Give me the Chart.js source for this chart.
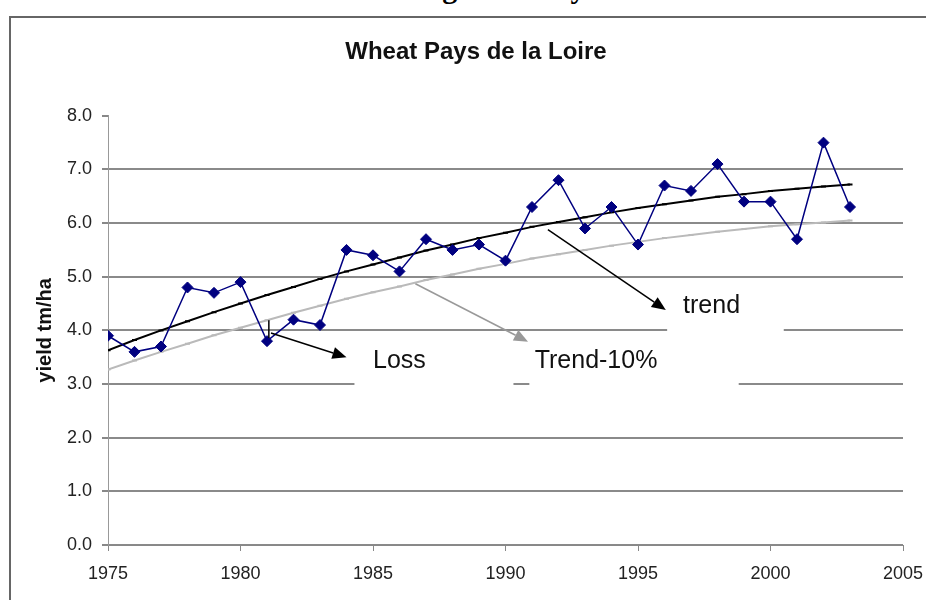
<!DOCTYPE html>
<html>
<head>
<meta charset="utf-8">
<title>Wheat Pays de la Loire</title>
<script src="https://cdn.jsdelivr.net/npm/chart.js@4.4.1/dist/chart.umd.min.js"></script>
<style>
  html, body { margin: 0; padding: 0; background: #fff; overflow: hidden; }
  #wrap { position: relative; width: 926px; height: 600px; overflow: hidden; background: #fff; }
  #caption {
    position: absolute; right: 176px; top: -27px;
    font: bold 30px/30px "Liberation Serif", "Times New Roman", serif;
    white-space: nowrap; color: #000;
  }
  #frame {
    position: absolute; left: 9px; top: 16px; width: 960px; height: 640px;
    border-left: 2px solid #666; border-top: 2px solid #666; pointer-events: none;
  }
  canvas { position: absolute; left: 0; top: 0; }
</style>
</head>
<body>
<div id="wrap">
  <div id="caption">Wheat trend and data deducted for the region of Pays de la Loire.</div>
  <canvas id="wheat-chart" width="926" height="600"></canvas>
  <div id="frame"></div>
</div>
<script>
// yields (t/ha)
const years = [1975, 1976, 1977, 1978, 1979, 1980, 1981, 1982, 1983, 1984,
               1985, 1986, 1987, 1988, 1989, 1990, 1991, 1992, 1993, 1994,
               1995, 1996, 1997, 1998, 1999, 2000, 2001, 2002, 2003];
const yieldData = [3.9, 3.6, 3.7, 4.8, 4.7, 4.9, 3.8, 4.2, 4.1, 5.5,
                   5.4, 5.1, 5.7, 5.5, 5.6, 5.3, 6.3, 6.8, 5.9, 6.3,
                   5.6, 6.7, 6.6, 7.1, 6.4, 6.4, 5.7, 7.5, 6.3];
const trendData = [3.63, 3.82, 4.00, 4.17, 4.34, 4.50, 4.66, 4.81, 4.96, 5.10,
                   5.23, 5.36, 5.49, 5.60, 5.72, 5.82, 5.93, 6.02, 6.11, 6.20,
                   6.28, 6.35, 6.42, 6.49, 6.54, 6.60, 6.64, 6.68, 6.72];
const trendMinus10 = [3.27, 3.44, 3.60, 3.75, 3.91, 4.05, 4.19, 4.33, 4.46, 4.59,
                      4.71, 4.82, 4.94, 5.04, 5.15, 5.24, 5.34, 5.42, 5.50, 5.58,
                      5.65, 5.72, 5.78, 5.84, 5.89, 5.94, 5.98, 6.01, 6.05];
const xTicks = [1975, 1980, 1985, 1990, 1995, 2000, 2005];
const yTicks = [0, 1, 2, 3, 4, 5, 6, 7, 8];

const toPoints = arr => years.map((yr, i) => ({ x: yr, y: arr[i] }));

// text boxes of the original sheet hide the gridlines behind them (data units)
const labelBoxes = [
    { x0: 1984.3, x1: 1990.3, y0: 3.62, y1: 2.8 },
    { x0: 1990.9, x1: 1998.8, y0: 3.62, y1: 2.8 },
    { x0: 1996.1, x1: 2000.5, y0: 4.6, y1: 3.8 }
];
const notes = [
    { text: 'Loss', x: 1985.0, y: 3.43 },
    { text: 'Trend-10%', x: 1991.1, y: 3.43 },
    { text: 'trend', x: 1996.7, y: 4.45 }
];
const arrows = [
    { from: [1981.15, 3.95], to: [1984.0, 3.5], color: '#000' },
    { from: [1986.6, 4.87], to: [1990.85, 3.79], color: '#999' },
    { from: [1991.6, 5.88], to: [1996.05, 4.38], color: '#000' }
];

const notesPlugin = {
    id: 'notes',
    beforeDatasetsDraw(chart) {
        const { ctx, scales: { x, y } } = chart;
        ctx.save();
        ctx.fillStyle = '#fff';
        labelBoxes.forEach(b => {
            const l = x.getPixelForValue(b.x0), r = x.getPixelForValue(b.x1);
            const t = y.getPixelForValue(b.y0), btm = y.getPixelForValue(b.y1);
            ctx.fillRect(l, t, r - l, btm - t);
        });
        ctx.restore();
    },
    afterDatasetsDraw(chart) {
        const { ctx, scales: { x, y } } = chart;
        ctx.save();
        // little loss bar at 1981
        ctx.strokeStyle = '#000';
        ctx.lineWidth = 1.5;
        ctx.beginPath();
        ctx.moveTo(x.getPixelForValue(1981.07), y.getPixelForValue(4.19));
        ctx.lineTo(x.getPixelForValue(1981.07), y.getPixelForValue(3.86));
        ctx.stroke();

        arrows.forEach(a => {
            const x0 = x.getPixelForValue(a.from[0]), y0 = y.getPixelForValue(a.from[1]);
            const x1 = x.getPixelForValue(a.to[0]), y1 = y.getPixelForValue(a.to[1]);
            const ang = Math.atan2(y1 - y0, x1 - x0);
            const len = 14, half = 6;
            const bx = x1 - len * Math.cos(ang), by = y1 - len * Math.sin(ang);
            ctx.strokeStyle = a.color;
            ctx.fillStyle = a.color;
            ctx.lineWidth = 1.5;
            ctx.beginPath();
            ctx.moveTo(x0, y0);
            ctx.lineTo(bx, by);
            ctx.stroke();
            ctx.beginPath();
            ctx.moveTo(x1, y1);
            ctx.lineTo(bx + half * Math.sin(ang), by - half * Math.cos(ang));
            ctx.lineTo(bx - half * Math.sin(ang), by + half * Math.cos(ang));
            ctx.closePath();
            ctx.fill();
        });

        ctx.fillStyle = '#111';
        ctx.font = '25px "Liberation Sans", Arial, sans-serif';
        ctx.textBaseline = 'middle';
        ctx.textAlign = 'left';
        notes.forEach(n => ctx.fillText(n.text, x.getPixelForValue(n.x), y.getPixelForValue(n.y)));
        ctx.restore();
    }
};

Chart.defaults.font.family = '"Liberation Sans", Arial, sans-serif';
Chart.defaults.color = '#222';

const chart = new Chart(document.getElementById('wheat-chart'), {
    type: 'line',
    data: {
        datasets: [
            {
                label: 'yield',
                data: toPoints(yieldData),
                borderColor: '#000080',
                backgroundColor: '#000080',
                borderWidth: 1.5,
                pointStyle: 'rectRot',
                pointRadius: 5.5,
                pointBorderWidth: 1,
                tension: 0
            },
            {
                label: 'trend',
                data: toPoints(trendData),
                borderColor: '#000',
                backgroundColor: '#000',
                borderWidth: 2,
                pointStyle: 'line',
                pointRadius: 2.5,
                pointBorderWidth: 2,
                tension: 0
            },
            {
                label: 'Trend-10%',
                data: toPoints(trendMinus10),
                borderColor: '#bababa',
                backgroundColor: '#bababa',
                borderWidth: 2,
                pointStyle: 'line',
                pointRadius: 2.5,
                pointBorderWidth: 2,
                tension: 0
            }
        ]
    },
    options: {
        responsive: false,
        animation: false,
        devicePixelRatio: 1,
        layout: { padding: { left: 26, right: 0, top: 0, bottom: 0 } },
        plugins: {
            legend: { display: false },
            tooltip: { enabled: false },
            title: {
                display: true,
                text: 'Wheat Pays de la Loire',
                color: '#111',
                font: { size: 24, weight: 'bold' },
                padding: { top: 38, bottom: 49 }
            }
        },
        scales: {
            x: {
                type: 'linear',
                min: 1975,
                max: 2005,
                afterBuildTicks: scale => { scale.ticks = xTicks.map(v => ({ value: v })); },
                afterFit: scale => { scale.height = 55; scale.paddingRight = 23; },
                ticks: {
                    font: { size: 18 },
                    color: '#222',
                    padding: 12,
                    maxRotation: 0,
                    callback: v => String(v)
                },
                grid: {
                    drawOnChartArea: false,
                    color: '#888',
                    tickLength: 6,
                    lineWidth: 1
                },
                border: { color: '#888', width: 1 }
            },
            y: {
                min: 0,
                max: 8,
                afterBuildTicks: scale => { scale.ticks = yTicks.map(v => ({ value: v })); },
                afterFit: scale => { scale.width = 82; },
                ticks: {
                    font: { size: 18 },
                    color: '#222',
                    padding: 10,
                    callback: v => v.toFixed(1)
                },
                grid: {
                    color: ctx => (ctx.tick && ctx.tick.value === 8 ? 'rgba(0,0,0,0)' : '#8a8a8a'),
                    tickColor: '#888',
                    lineWidth: 2,
                    tickLength: 6
                },
                border: { color: '#999', width: 1 },
                title: {
                    display: true,
                    text: 'yield tm/ha',
                    color: '#111',
                    font: { size: 20, weight: 'bold' },
                    padding: { top: 7, bottom: 0 }
                }
            }
        }
    },
    plugins: [notesPlugin]
});
</script>
</body>
</html>
